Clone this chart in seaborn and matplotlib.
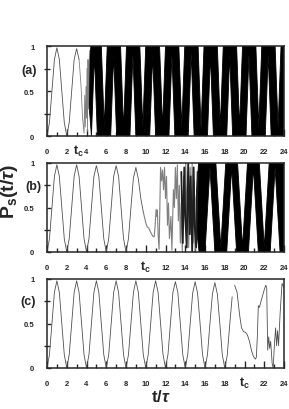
import numpy as np
import pandas as pd
import matplotlib.pyplot as plt
import matplotlib.transforms as mtransforms
from matplotlib.ticker import MultipleLocator
import seaborn as sns

sns.set_style('ticks')
plt.rcParams['font.family'] = ['Liberation Sans', 'DejaVu Sans']
plt.rcParams['font.weight'] = 'bold'
plt.rcParams['mathtext.fontset'] = 'custom'
plt.rcParams['mathtext.rm'] = 'Liberation Sans'
plt.rcParams['mathtext.bf'] = 'Liberation Sans:bold'
plt.rcParams['mathtext.it'] = 'Liberation Sans:italic'

# ---- panel (a) ----
a_smooth_t = np.arange(0, 3.5, 0.25)
a_smooth_y = [0.0, 0.15, 0.5, 0.85, 0.98, 0.85, 0.5, 0.15, 0.0, 0.15, 0.5, 0.85, 0.97, 0.85]
a_gray_t = [3.25, 3.45, 3.6, 3.75, 3.82, 3.88, 3.95, 4.0, 4.05, 4.1, 4.15, 4.2, 4.3]
a_gray_y = [0.85, 0.55, 0.2, 0.03, 0.45, 0.1, 0.55, 0.2, 0.75, 0.05, 0.85, 0.3, 0.95]
a_top_t = [4.15, 4.45, 5.5, 5.8, 6.1, 7.45, 7.75, 8.05, 9.4, 9.7, 10.0, 11.4, 11.7, 12.0,
           13.35, 13.65, 13.95, 15.3, 15.6, 15.9, 17.25, 17.55, 17.85, 19.2, 19.5, 19.8,
           21.15, 21.45, 21.75, 23.1, 23.4, 23.7, 24.0]
a_top_y = [0.7, 1.0, 1.0, 0.1, 1.0, 1.0, 0.08, 1.0, 1.0, 0.1, 1.0, 1.0, 0.1, 1.0,
           1.0, 0.1, 1.0, 1.0, 0.08, 1.0, 1.0, 0.1, 1.0, 1.0, 0.1, 1.0,
           1.0, 0.1, 1.0, 1.0, 0.1, 1.0, 1.0]
a_bot_t = [4.15, 4.5, 4.8, 5.1, 6.45, 6.75, 7.05, 8.4, 8.7, 9.0, 10.4, 10.7, 11.0,
           12.35, 12.65, 12.95, 14.3, 14.6, 14.9, 16.25, 16.55, 16.85, 18.2, 18.5, 18.8,
           20.15, 20.45, 20.75, 22.1, 22.4, 22.7, 24.0]
a_bot_y = [0.5, 0.0, 0.9, 0.0, 0.0, 0.9, 0.0, 0.0, 0.9, 0.0, 0.0, 0.9, 0.0,
           0.0, 0.9, 0.0, 0.0, 0.92, 0.0, 0.0, 0.9, 0.0, 0.0, 0.9, 0.0,
           0.0, 0.9, 0.0, 0.0, 0.9, 0.0, 0.0]

# ---- panel (b) ----
b_smooth_t = np.arange(0, 10.0, 0.25)
b_smooth_y = [0.0, 0.15, 0.5, 0.85, 0.98, 0.85, 0.5, 0.15,
              0.0, 0.15, 0.5, 0.85, 0.98, 0.85, 0.5, 0.15,
              0.0, 0.15, 0.5, 0.85, 0.97, 0.85, 0.5, 0.15,
              0.0, 0.15, 0.5, 0.85, 0.97, 0.85, 0.5, 0.15,
              0.0, 0.15, 0.5, 0.83, 0.95, 0.82, 0.6, 0.45]
b_gray_t = [9.75, 10.0, 10.15, 10.3, 10.5, 10.7, 10.85, 10.95, 11.05, 11.12, 11.18, 11.25, 11.35,
            11.5, 11.6, 11.7, 11.8, 11.9, 12.0, 12.1, 12.2, 12.3, 12.4, 12.55, 12.65, 12.8,
            12.9, 13.0, 13.1, 13.2, 13.3, 13.4, 13.5, 13.6, 13.7, 13.85, 13.95, 14.05, 14.15,
            14.25, 14.35, 14.5, 14.6, 14.7, 14.8, 14.9, 15.0]
b_gray_y = [0.45, 0.33, 0.28, 0.27, 0.22, 0.18, 0.17, 0.3, 0.48, 0.4, 0.47, 0.2, 0.03,
            0.95, 0.8, 0.92, 0.7, 0.95, 0.6, 0.85, 0.3, 0.55, 0.15, 0.4, 0.02, 0.7,
            0.5, 0.95, 0.6, 0.98, 0.35, 0.75, 0.1, 0.55, 0.0, 0.85, 0.45, 1.0, 0.3,
            0.9, 0.05, 0.95, 0.2, 1.0, 0.1, 0.8, 0.0]
b_dark_t = [13.6, 13.75, 13.9, 14.0, 14.15, 14.3, 14.45, 14.55, 14.7, 14.85, 14.95, 15.1, 15.25]
b_dark_y = [0.9, 0.1, 0.95, 0.4, 0.05, 1.0, 0.2, 0.85, 0.0, 0.95, 0.3, 0.05, 0.9]
b_top_t = [15.1, 15.35, 17.1, 17.6, 18.1, 19.3, 19.8, 20.3, 21.5, 22.0, 22.5, 24.0]
b_top_y = [0.6, 1.0, 1.0, 0.05, 1.0, 1.0, 0.05, 1.0, 1.0, 0.05, 1.0, 1.0]
b_bot_t = [15.1, 15.4, 16.0, 16.5, 17.0, 18.2, 18.7, 19.2, 20.4, 20.9, 21.4, 22.6, 23.1, 23.6, 24.0]
b_bot_y = [0.3, 0.0, 0.0, 0.95, 0.0, 0.0, 0.95, 0.0, 0.0, 0.95, 0.0, 0.0, 0.95, 0.0, 0.0]

# ---- panel (c) ----
c_smooth_t = np.arange(0, 19.0, 0.25)
c_smooth_y = [0.0, 0.15, 0.5, 0.85, 0.98, 0.85, 0.5, 0.15,
              0.0, 0.15, 0.5, 0.85, 0.98, 0.85, 0.5, 0.15,
              0.0, 0.15, 0.5, 0.85, 0.98, 0.85, 0.5, 0.15,
              0.0, 0.15, 0.5, 0.85, 0.98, 0.85, 0.5, 0.15,
              0.0, 0.15, 0.5, 0.85, 0.98, 0.85, 0.5, 0.15,
              0.0, 0.15, 0.5, 0.85, 0.98, 0.85, 0.5, 0.15,
              0.0, 0.15, 0.5, 0.85, 0.97, 0.85, 0.5, 0.15,
              0.0, 0.15, 0.5, 0.84, 0.97, 0.84, 0.5, 0.15,
              0.0, 0.15, 0.5, 0.83, 0.96, 0.83, 0.5, 0.15,
              0.0, 0.14, 0.48, 0.8]
c_tail_t = [19.0, 19.25, 19.5, 19.7, 19.9, 20.1, 20.3, 20.5, 20.7, 20.9, 21.1, 21.2, 21.3, 21.4,
            21.5, 21.6, 21.8, 22.0, 22.15, 22.25, 22.35, 22.45, 22.55, 22.65, 22.8, 22.9, 23.05,
            23.15, 23.25, 23.35, 23.45, 23.6, 23.8, 24.0]
c_tail_y = [0.93, 0.85, 0.6, 0.45, 0.41, 0.4, 0.37, 0.3, 0.2, 0.13, 0.1, 0.12, 0.35, 0.7,
            0.68, 0.72, 0.8, 0.88, 0.93, 0.9, 0.2, 0.35, 0.22, 0.3, 0.05, 0.0, 0.3,
            0.45, 0.25, 0.42, 0.25, 0.6, 0.95, 0.9]

x_ticks = list(range(0, 25, 2))
tc_pos = {'a': 3.2, 'b': 10, 'c': 20}
line_col = '#505050'
gray_col = '#808080'


def setup_axis(ax, label, hide_tick):
    ax.set_xlim(0, 24)
    ax.set_ylim(0, 1)
    ax.xaxis.set_major_locator(MultipleLocator(2))
    ax.xaxis.set_minor_locator(MultipleLocator(1))
    ax.yaxis.set_major_locator(MultipleLocator(0.5))
    ax.yaxis.set_minor_locator(MultipleLocator(0.25))
    labels = ['' if t == hide_tick else str(t) for t in x_ticks]
    ax.set_xticks(x_ticks)
    ax.set_xticklabels(labels)
    ax.set_yticks([0, 0.5, 1])
    ax.set_yticklabels(['0', '0.5', '1'])
    ax.tick_params(axis='x', which='major', direction='in', length=5, width=1,
                   labelsize=5.5, pad=9, top=False)
    ax.tick_params(axis='x', which='minor', direction='in', length=3, width=1, top=False)
    ax.tick_params(axis='y', which='major', direction='in', length=3, width=1,
                   labelsize=5.5, pad=9, right=False)
    ax.tick_params(axis='y', which='minor', direction='inout', length=5, width=1, right=False)
    for s in ax.spines.values():
        s.set_visible(True)
        s.set_linewidth(1.1)
    ax.set_xlabel('')
    ax.set_ylabel('')
    trans = mtransforms.blended_transform_factory(ax.transData, ax.transAxes)
    ax.text(tc_pos[label], -0.165, r'$\mathbf{t}_{\mathbf{c}}$', transform=trans,
            ha='center', va='center', fontsize=9)


def draw_line(ax, t, y, col, lw):
    df = pd.DataFrame({'t': t, 'y': y})
    sns.lineplot(data=df, x='t', y='y', ax=ax, color=col, linewidth=lw,
                 estimator=None, sort=False, legend=False)


def draw_band(ax, top_t, top_y, bot_t, bot_y):
    xs = list(top_t) + list(bot_t)[::-1]
    ys = list(top_y) + list(bot_y)[::-1]
    ax.fill(xs, ys, color='black', linewidth=0.6, edgecolor='black')


fig = plt.figure(figsize=(2.89, 4.10), dpi=100)
left, width = 47 / 289, 237 / 289
ax_a = fig.add_axes([left, 1 - 137 / 410, width, 90 / 410])
ax_b = fig.add_axes([left, 1 - 253 / 410, width, 89 / 410])
ax_c = fig.add_axes([left, 1 - 369 / 410, width, 89 / 410])

draw_line(ax_a, a_smooth_t, a_smooth_y, line_col, 0.6)
draw_line(ax_a, a_gray_t, a_gray_y, gray_col, 0.6)
draw_band(ax_a, a_top_t, a_top_y, a_bot_t, a_bot_y)
setup_axis(ax_a, 'a', None)

draw_line(ax_b, b_smooth_t, b_smooth_y, line_col, 0.6)
draw_line(ax_b, b_gray_t, b_gray_y, gray_col, 0.8)
draw_line(ax_b, b_dark_t, b_dark_y, '#202020', 1.3)
draw_band(ax_b, b_top_t, b_top_y, b_bot_t, b_bot_y)
setup_axis(ax_b, 'b', 10)

draw_line(ax_c, c_smooth_t, c_smooth_y, line_col, 0.6)
draw_line(ax_c, c_tail_t, c_tail_y, line_col, 0.6)
setup_axis(ax_c, 'c', 20)

fig.text(29 / 289, 1 - 71 / 410, '(a)', ha='center', va='center', fontsize=9, fontweight='bold')
fig.text(33 / 289, 1 - 187 / 410, '(b)', ha='center', va='center', fontsize=9, fontweight='bold')
fig.text(28 / 289, 1 - 302 / 410, '(c)', ha='center', va='center', fontsize=9, fontweight='bold')
fig.text(10 / 289, 1 - 191 / 410, r'$\mathbf{P}_{\mathbf{s}}\mathbf{(t/}\tau\mathbf{)}$',
         ha='center', va='center', rotation=90, fontsize=14)
fig.text(161 / 289, 1 - 397 / 410, r'$\mathbf{t/}\tau$', ha='center', va='center', fontsize=12)

fig.savefig('out.png', dpi=100)
